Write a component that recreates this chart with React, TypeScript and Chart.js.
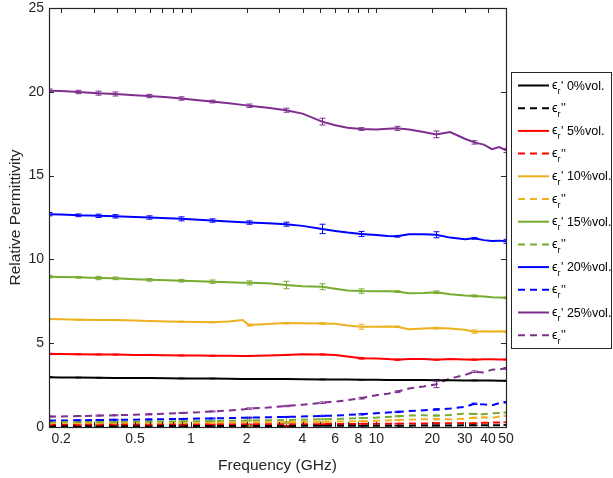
import React, { useEffect, useRef } from "react";
import { Chart, registerables } from "chart.js";

Chart.register(...registerables);

const FONT = "'Liberation Sans', Arial, Helvetica, sans-serif";

// Frequency samples (GHz)
const freqGHz = [0.172, 0.2, 0.247, 0.316, 0.391, 0.5, 0.596, 0.75, 0.887, 1.1, 1.3, 1.6, 1.9, 2.06, 2.6, 3.26, 4.0, 5.1, 6.0, 7.0, 8.28, 10, 11.5, 12.9, 15, 18, 21, 25, 30, 33.7, 38, 42, 46, 50];

// Real part (solid lines)
const real0 = [2.97, 2.96, 2.95, 2.94, 2.93, 2.92, 2.92, 2.91, 2.9, 2.89, 2.89, 2.88, 2.87, 2.87, 2.86, 2.86, 2.85, 2.84, 2.84, 2.83, 2.82, 2.82, 2.81, 2.81, 2.8, 2.8, 2.79, 2.79, 2.78, 2.78, 2.77, 2.77, 2.76, 2.76];
const real5 = [4.36, 4.35, 4.34, 4.33, 4.32, 4.3, 4.3, 4.28, 4.27, 4.26, 4.25, 4.25, 4.24, 4.24, 4.26, 4.3, 4.34, 4.33, 4.3, 4.2, 4.1, 4.08, 4.05, 4.02, 4.05, 4.05, 4.02, 4.05, 4.03, 4.02, 4.04, 4.04, 4.03, 4.03];
const real10 = [6.44, 6.43, 6.4, 6.39, 6.38, 6.35, 6.32, 6.3, 6.28, 6.27, 6.25, 6.3, 6.38, 6.08, 6.15, 6.2, 6.19, 6.18, 6.16, 6.05, 5.98, 5.98, 6.0, 5.98, 5.83, 5.88, 5.9, 5.88, 5.8, 5.69, 5.72, 5.7, 5.72, 5.69];
const real15 = [8.97, 8.95, 8.93, 8.89, 8.87, 8.82, 8.78, 8.75, 8.73, 8.7, 8.67, 8.63, 8.61, 8.6, 8.57, 8.47, 8.4, 8.37, 8.25, 8.15, 8.11, 8.1, 8.1, 8.08, 7.98, 8.0, 8.04, 7.92, 7.85, 7.82, 7.78, 7.74, 7.72, 7.71];
const real20 = [12.7, 12.68, 12.63, 12.6, 12.57, 12.53, 12.5, 12.45, 12.42, 12.36, 12.32, 12.26, 12.22, 12.2, 12.15, 12.1, 12.0, 11.82, 11.7, 11.6, 11.52, 11.45, 11.4, 11.38, 11.5, 11.5, 11.47, 11.3, 11.2, 11.26, 11.15, 11.1, 11.12, 11.08];
const real25 = [20.07, 20.05, 19.99, 19.92, 19.87, 19.8, 19.75, 19.68, 19.6, 19.5, 19.42, 19.32, 19.22, 19.17, 19.05, 18.9, 18.7, 18.22, 18.0, 17.85, 17.78, 17.75, 17.8, 17.82, 17.75, 17.6, 17.46, 17.6, 17.2, 16.98, 16.85, 16.58, 16.7, 16.5];

// Imaginary part (dashed lines)
const imag0 = [0.05, 0.05, 0.05, 0.05, 0.05, 0.05, 0.05, 0.06, 0.05, 0.06, 0.06, 0.06, 0.06, 0.06, 0.06, 0.06, 0.07, 0.07, 0.07, 0.07, 0.07, 0.08, 0.08, 0.08, 0.08, 0.09, 0.09, 0.09, 0.1, 0.1, 0.1, 0.11, 0.11, 0.12];
const imag5 = [0.12, 0.12, 0.12, 0.13, 0.13, 0.13, 0.13, 0.14, 0.14, 0.14, 0.15, 0.15, 0.15, 0.16, 0.16, 0.17, 0.17, 0.17, 0.18, 0.18, 0.19, 0.19, 0.2, 0.2, 0.21, 0.21, 0.22, 0.22, 0.24, 0.22, 0.25, 0.26, 0.27, 0.28];
const imag10 = [0.2, 0.2, 0.21, 0.21, 0.21, 0.22, 0.22, 0.22, 0.23, 0.23, 0.24, 0.25, 0.26, 0.3, 0.28, 0.29, 0.3, 0.31, 0.32, 0.33, 0.35, 0.37, 0.39, 0.41, 0.44, 0.46, 0.47, 0.45, 0.5, 0.55, 0.58, 0.55, 0.62, 0.66];
const imag15 = [0.27, 0.28, 0.29, 0.3, 0.3, 0.31, 0.32, 0.33, 0.34, 0.35, 0.36, 0.37, 0.38, 0.39, 0.4, 0.42, 0.44, 0.46, 0.48, 0.5, 0.53, 0.56, 0.6, 0.64, 0.68, 0.7, 0.68, 0.72, 0.8, 0.78, 0.76, 0.82, 0.84, 0.86];
const imag20 = [0.38, 0.39, 0.4, 0.42, 0.43, 0.44, 0.45, 0.47, 0.48, 0.5, 0.51, 0.53, 0.55, 0.56, 0.58, 0.6, 0.63, 0.66, 0.68, 0.72, 0.76, 0.82, 0.86, 0.9, 0.95, 1.0, 1.05, 1.1, 1.2, 1.38, 1.35, 1.3, 1.42, 1.48];
const imag25 = [0.62, 0.63, 0.65, 0.68, 0.7, 0.73, 0.76, 0.8, 0.84, 0.88, 0.93, 0.98, 1.05, 1.1, 1.16, 1.25, 1.33, 1.45, 1.52, 1.6, 1.72, 1.9, 1.98, 2.1, 2.3, 2.42, 2.55, 2.9, 3.1, 3.3, 3.25, 3.42, 3.44, 3.5];

// Error bar half-heights (0 = no error bar at that sample)
const errReal0 = [0.02, 0, 0.02, 0.02, 0.02, 0, 0.02, 0, 0.02, 0, 0.02, 0, 0, 0.02, 0, 0.02, 0, 0.02, 0, 0, 0.02, 0, 0, 0.02, 0, 0, 0.04, 0, 0, 0.02, 0, 0, 0, 0.02];
const errReal5 = [0.04, 0, 0.03, 0.03, 0.03, 0, 0.03, 0, 0.03, 0, 0.03, 0, 0, 0.03, 0, 0.03, 0, 0.03, 0, 0, 0.05, 0, 0, 0.04, 0, 0, 0.03, 0, 0, 0.03, 0, 0, 0, 0.03];
const errReal10 = [0.03, 0, 0.03, 0.03, 0.03, 0, 0.03, 0, 0.03, 0, 0.03, 0, 0, 0.06, 0, 0.04, 0, 0.05, 0, 0, 0.15, 0, 0, 0.04, 0, 0, 0.05, 0, 0, 0.1, 0, 0, 0, 0.05];
const errReal15 = [0.08, 0, 0.05, 0.1, 0.08, 0, 0.08, 0, 0.08, 0, 0.1, 0, 0, 0.12, 0, 0.22, 0, 0.18, 0, 0, 0.13, 0, 0, 0.05, 0, 0, 0.08, 0, 0, 0.06, 0, 0, 0, 0.05];
const errReal20 = [0.1, 0, 0.08, 0.1, 0.1, 0, 0.1, 0, 0.12, 0, 0.1, 0, 0, 0.1, 0, 0.12, 0, 0.28, 0, 0, 0.15, 0, 0, 0.05, 0, 0, 0.18, 0, 0, 0.05, 0, 0, 0, 0.12];
const errReal25 = [0.1, 0, 0.1, 0.12, 0.12, 0, 0.1, 0, 0.1, 0, 0.08, 0, 0, 0.1, 0, 0.12, 0, 0.2, 0, 0, 0.08, 0, 0, 0.12, 0, 0, 0.2, 0, 0, 0.1, 0, 0, 0, 0.12];
const errImag0 = [0.02, 0, 0.02, 0.02, 0.02, 0, 0.02, 0, 0.02, 0, 0.02, 0, 0, 0.02, 0, 0.02, 0, 0.02, 0, 0, 0.02, 0, 0, 0.02, 0, 0, 0.02, 0, 0, 0.02, 0, 0, 0, 0.02];
const errImag5 = [0.02, 0, 0.02, 0.02, 0.02, 0, 0.02, 0, 0.02, 0, 0.02, 0, 0, 0.02, 0, 0.12, 0, 0.02, 0, 0, 0.02, 0, 0, 0.02, 0, 0, 0.02, 0, 0, 0.02, 0, 0, 0, 0.02];
const errImag10 = [0.02, 0, 0.02, 0.02, 0.02, 0, 0.02, 0, 0.02, 0, 0.02, 0, 0, 0.25, 0, 0.03, 0, 0.03, 0, 0, 0.03, 0, 0, 0.03, 0, 0, 0.03, 0, 0, 0.03, 0, 0, 0, 0.03];
const errImag15 = [0.02, 0, 0.02, 0.02, 0.02, 0, 0.02, 0, 0.02, 0, 0.02, 0, 0, 0.03, 0, 0.2, 0, 0.03, 0, 0, 0.03, 0, 0, 0.03, 0, 0, 0.03, 0, 0, 0.03, 0, 0, 0, 0.03];
const errImag20 = [0.03, 0, 0.03, 0.03, 0.03, 0, 0.03, 0, 0.03, 0, 0.03, 0, 0, 0.03, 0, 0.03, 0, 0.04, 0, 0, 0.04, 0, 0, 0.04, 0, 0, 0.04, 0, 0, 0.04, 0, 0, 0, 0.04];
const errImag25 = [0.03, 0, 0.03, 0.03, 0.03, 0, 0.03, 0, 0.03, 0, 0.03, 0, 0, 0.04, 0, 0.04, 0, 0.05, 0, 0, 0.05, 0, 0, 0.05, 0, 0, 0.2, 0, 0, 0.05, 0, 0, 0, 0.05];

// Axis ticks
const xTickValues = [0.2, 0.3, 0.4, 0.5, 0.6, 0.7, 0.8, 0.9, 1, 2, 3, 4, 5, 6, 7, 8, 9, 10, 20, 30, 40, 50];
const xLabeled = [0.2, 0.5, 1, 2, 4, 6, 8, 10, 20, 30, 40, 50];
const yTickValues = [0, 5, 10, 15, 20, 25];

const contents = ["0", "5", "10", "15", "20", "25"];
const colors = ["#000000", "#ff0000", "#edb120", "#77ac30", "#0000ff", "#7e2f8e"];
const reals = [real0, real5, real10, real15, real20, real25];
const imags = [imag0, imag5, imag10, imag15, imag20, imag25];
const errReals = [errReal0, errReal5, errReal10, errReal15, errReal20, errReal25];
const errImags = [errImag0, errImag5, errImag10, errImag15, errImag20, errImag25];

type Series = { pct: string; color: string; dashed: boolean; values: number[]; errs: number[] };

const series: Series[] = [];
contents.forEach((pct, i) => {
  series.push({ pct, color: colors[i], dashed: false, values: reals[i], errs: errReals[i] });
  series.push({ pct, color: colors[i], dashed: true, values: imags[i], errs: errImags[i] });
});

const DASH = [7, 5];

const decorPlugin = {
  id: "decor",
  afterDatasetsDraw(chart: any) {
    const ctx = chart.ctx as CanvasRenderingContext2D;
    const xs = chart.scales.x;
    const ys = chart.scales.y;
    const { left, right, top, bottom } = chart.chartArea;
    ctx.save();
    ctx.beginPath();
    ctx.rect(left, top, right - left, bottom - top);
    ctx.clip();
    ctx.lineWidth = 1;
    series.forEach((s) => {
      ctx.strokeStyle = s.color;
      ctx.beginPath();
      s.errs.forEach((e, i) => {
        if (!e) return;
        const x = Math.round(xs.getPixelForValue(freqGHz[i])) + 0.5;
        const y1 = ys.getPixelForValue(s.values[i] - e);
        const y2 = ys.getPixelForValue(s.values[i] + e);
        ctx.moveTo(x, y1);
        ctx.lineTo(x, y2);
        ctx.moveTo(x - 3, y1);
        ctx.lineTo(x + 3, y1);
        ctx.moveTo(x - 3, y2);
        ctx.lineTo(x + 3, y2);
      });
      ctx.stroke();
    });
    ctx.restore();
  },
  afterDraw(chart: any) {
    const ctx = chart.ctx as CanvasRenderingContext2D;
    const xs = chart.scales.x;
    const ys = chart.scales.y;
    const { left, right, top, bottom } = chart.chartArea;
    ctx.save();
    ctx.strokeStyle = "#262626";
    ctx.lineWidth = 1;
    ctx.beginPath();
    xTickValues.forEach((v) => {
      const x = Math.round(xs.getPixelForValue(v)) + 0.5;
      ctx.moveTo(x, bottom);
      ctx.lineTo(x, bottom - 5);
      ctx.moveTo(x, top);
      ctx.lineTo(x, top + 5);
    });
    yTickValues.forEach((v) => {
      const y = Math.round(ys.getPixelForValue(v)) + 0.5;
      ctx.moveTo(left, y);
      ctx.lineTo(left + 5, y);
      ctx.moveTo(right, y);
      ctx.lineTo(right - 5, y);
    });
    ctx.stroke();
    ctx.lineWidth = 1.2;
    ctx.strokeRect(Math.round(left) + 0.5, Math.round(top) + 0.5, Math.round(right - left), Math.round(bottom - top));

    // Legend
    const lx = 511.5, ly = 72.5, lw = 100, lh = 276;
    ctx.fillStyle = "#ffffff";
    ctx.fillRect(lx, ly, lw, lh);
    ctx.lineWidth = 1;
    ctx.strokeStyle = "#262626";
    ctx.strokeRect(lx, ly, lw, lh);
    series.forEach((s, i) => {
      const cy = 85.5 + i * 22.7;
      ctx.strokeStyle = s.color;
      ctx.lineWidth = 2;
      ctx.setLineDash(s.dashed ? DASH : []);
      ctx.beginPath();
      ctx.moveTo(518, cy);
      ctx.lineTo(549, cy);
      ctx.stroke();
      ctx.setLineDash([]);
      ctx.fillStyle = "#000000";
      ctx.textBaseline = "alphabetic";
      ctx.textAlign = "left";
      let x = 552;
      ctx.font = `12.5px ${FONT}`;
      ctx.fillText("\u03f5", x, cy + 3.5);
      x += ctx.measureText("\u03f5").width;
      ctx.font = `9px ${FONT}`;
      ctx.fillText("r", x, cy + 8.5);
      x += ctx.measureText("r").width + 0.5;
      ctx.font = `12.5px ${FONT}`;
      ctx.fillText(s.dashed ? "''" : `' ${s.pct}%vol.`, x, cy + 4);
    });
    ctx.restore();
  },
};

export default function App() {
  const canvasRef = useRef<HTMLCanvasElement | null>(null);

  useEffect(() => {
    document.body.style.margin = "0";
    const canvas = canvasRef.current;
    if (!canvas) return;
    const datasets = series.map((s) => ({
      label: s.dashed ? `eps'' ${s.pct}%` : `eps' ${s.pct}%`,
      data: freqGHz.map((f, i) => ({ x: f, y: s.values[i] })),
      borderColor: s.color,
      backgroundColor: s.color,
      borderWidth: 2,
      borderDash: s.dashed ? DASH : [],
      pointRadius: 0,
      fill: false,
      tension: 0,
    }));
    const chart = new Chart(canvas, {
      type: "line",
      data: { datasets },
      options: {
        animation: false,
        responsive: false,
        maintainAspectRatio: false,
        layout: { padding: { left: 0, right: 107, top: 8, bottom: 0 } },
        plugins: { legend: { display: false }, tooltip: { enabled: false } },
        scales: {
          x: {
            type: "logarithmic",
            min: 0.172,
            max: 50,
            grid: { display: false, drawTicks: false },
            border: { display: false },
            afterBuildTicks: (scale: any) => {
              scale.ticks = xTickValues.map((v) => ({ value: v }));
            },
            afterFit: (scale: any) => {
              scale.height = 51;
              scale.paddingLeft = 0;
              scale.paddingRight = 0;
            },
            ticks: {
              autoSkip: false,
              maxRotation: 0,
              minRotation: 0,
              padding: 4,
              color: "#262626",
              font: { family: FONT, size: 14 },
              callback: (value: any) => {
                const v = Number(value);
                const hit = xLabeled.find((l) => Math.abs(l - v) < 1e-6 * Math.max(1, l));
                return hit !== undefined ? String(hit) : "";
              },
            },
            title: {
              display: true,
              text: "Frequency (GHz)",
              color: "#262626",
              font: { family: FONT, size: 15.5 },
              padding: { top: 0, bottom: 3 },
            },
          },
          y: {
            type: "linear",
            min: 0,
            max: 25,
            grid: { display: false, drawTicks: false },
            border: { display: false },
            afterBuildTicks: (scale: any) => {
              scale.ticks = yTickValues.map((v) => ({ value: v }));
            },
            afterFit: (scale: any) => {
              scale.width = 49;
              scale.paddingTop = 0;
              scale.paddingBottom = 0;
            },
            ticks: {
              padding: 5,
              color: "#262626",
              font: { family: FONT, size: 14 },
              callback: (value: any) => String(value),
            },
            title: {
              display: true,
              text: "Relative Permittivity",
              color: "#262626",
              font: { family: FONT, size: 15.5 },
              padding: { top: 6, bottom: 0 },
            },
          },
        },
      },
      plugins: [decorPlugin],
    } as any);
    return () => chart.destroy();
  }, []);

  return <canvas ref={canvasRef} width={613} height={478} style={{ display: "block" }} />;
}
